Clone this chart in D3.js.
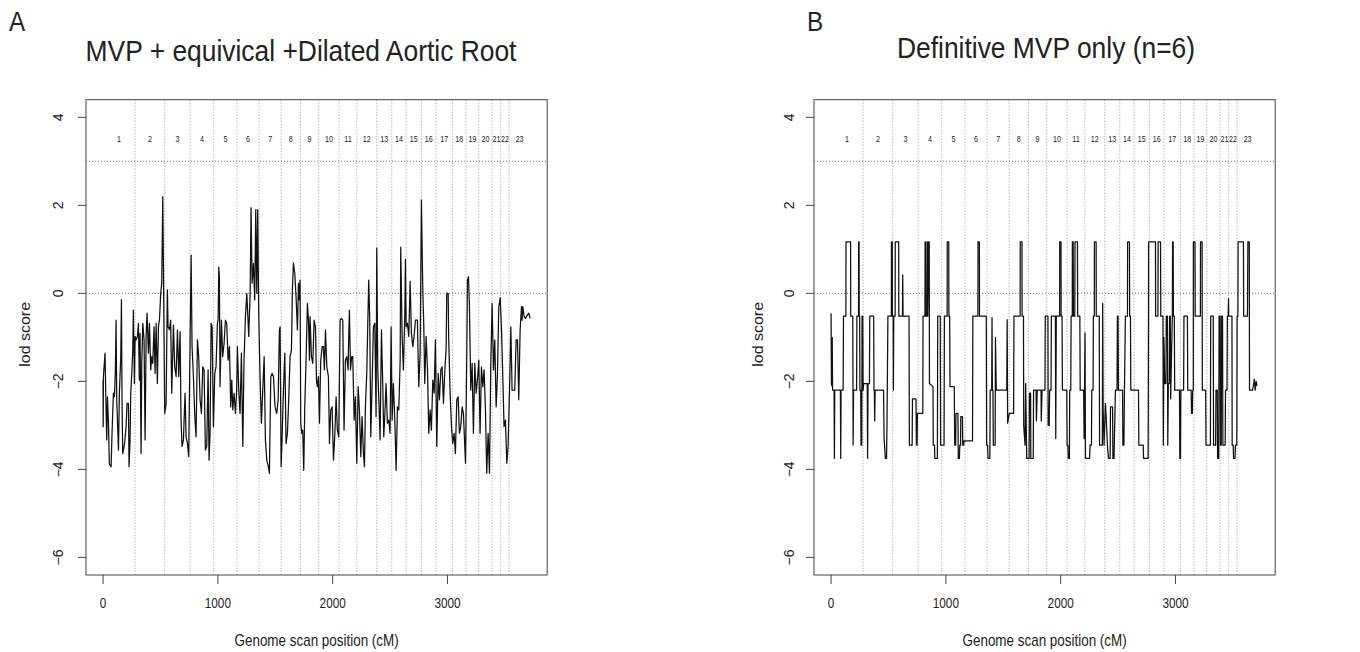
<!DOCTYPE html>
<html>
<head>
<meta charset="utf-8">
<title>Genome scan lod scores</title>
<script src="https://d3js.org/d3.v7.min.js"></script>
<style>
  body { margin: 0; background: #fff; }
  text { font-family: "Liberation Sans", Arial, Helvetica, sans-serif; fill: #222; }
</style>
</head>
<body>
<svg width="1360" height="652"></svg>
<script>
// chromosome names and their edges along the genome scan (cM)
const chromosomes = ["1","2","3","4","5","6","7","8","9","10","11","12","13","14","15","16","17","18","19","20","21","22","23"];
const chromEdges = [0, 279, 537, 758, 964, 1167, 1359, 1551, 1719, 1879, 2056, 2210, 2384, 2515, 2639, 2773, 2901, 3043, 3162, 3273, 3389, 3464, 3537, 3720];

const xTicks = [0, 1000, 2000, 3000];
const yTicks = [-6, -4, -2, 0, 2, 4];
const refLines = [0, 3];

const panelLetters = ["A", "B"];
const panelTitles = ["MVP + equivical +Dilated Aortic Root", "Definitive MVP only (n=6)"];

// panel A: [position cM, lod score]
const lodA = [
[0,-1.97],[1,-3.03],[3,-1.89],[17,-1.36],[26,-2.65],[32,-3.33],[38,-2.35],[46,-2.88],[55,-3.88],[70,-3.94],[78,-3.18],[90,-2.27],[99,-2.35],[107,-1.74],[113,-0.61],[119,-2.42],[134,-3.56],[142,-2.27],[154,-1.44],[160,-0.14],[165,-2.42],[171,-3.64],[183,-3.48],[189,-3.37],[200,-3.03],[209,-2.5],[221,-2.5],[226,-3.94],[235,-3.33],[241,-2.27],[250,-1.82],[258,-1.36],[264,-0.38],[273,-2.05],[279,-0.98],[287,-1.06],[299,-0.98],[308,-0.68],[316,-1.97],[322,-0.91],[331,-3.64],[337,-1.59],[346,-0.68],[357,-1.06],[366,-3.33],[375,-0.98],[383,-0.45],[395,-1.36],[404,-0.68],[415,-1.74],[424,-1.44],[433,-1.59],[444,-0.76],[453,-1.82],[462,-0.68],[473,-2.05],[482,-0.76],[491,-0.61],[502,0],[511,0.23],[520,2.2],[526,0.53],[537,-2.73],[549,-2.5],[560,0.08],[566,-0.76],[578,-0.83],[589,-0.61],[598,-2.27],[613,-0.72],[624,-1.67],[636,-1.89],[648,-0.83],[659,-1.89],[671,-0.87],[679,-2.88],[688,-3.48],[700,-3.33],[714,-2.27],[723,-3.26],[735,-3.41],[746,-3.71],[758,-1.06],[767,0.87],[775,-1.21],[787,-1.89],[799,-2.8],[810,-3.26],[822,-1.06],[833,-1.44],[845,-2.42],[857,-2.73],[868,-1.67],[880,-1.74],[891,-3.56],[903,-3.48],[915,-1.74],[923,-3.79],[932,-3.18],[941,-0.68],[950,-0.76],[961,-3.03],[973,-1.82],[984,-1.67],[996,-0.68],[1002,-0.61],[1008,0.6],[1013,0.38],[1019,-2.12],[1031,-0.61],[1042,-1.44],[1054,-1.14],[1066,-0.61],[1077,-0.68],[1089,-1.52],[1101,-1.21],[1112,-2.58],[1121,-1.97],[1130,-2.65],[1141,-2.27],[1153,-2.73],[1164,-2.2],[1170,-1.21],[1182,-2.2],[1193,-2.73],[1205,-1.36],[1217,-3.48],[1228,-1.52],[1240,-0.53],[1252,0],[1269,-0.98],[1281,0],[1289,1.95],[1298,0.23],[1310,0.68],[1321,-0.15],[1330,1.9],[1339,0],[1347,1.9],[1356,-0.5],[1368,-1.97],[1379,-2.95],[1391,-2.2],[1403,-1.44],[1414,-3.33],[1426,-3.79],[1440,-3.94],[1449,-4.09],[1461,-1.89],[1472,-1.82],[1484,-1.89],[1498,-2.58],[1513,-2.73],[1525,-2.42],[1536,-0.83],[1542,-0.76],[1551,-3.94],[1559,-3.33],[1571,-2.2],[1583,-1.36],[1594,-3.41],[1606,-3.18],[1617,-2.42],[1629,-1.44],[1641,-1.29],[1649,0.08],[1658,0.69],[1670,0.45],[1681,-0.08],[1693,-0.83],[1702,0.23],[1710,-0.15],[1716,0.3],[1722,-2.95],[1731,-3.18],[1739,-3.11],[1748,-4.02],[1757,-2.58],[1768,-1.52],[1780,-0.23],[1789,-0.61],[1798,-1.52],[1803,-0.53],[1815,-1.44],[1827,-1.59],[1838,-0.61],[1850,-0.76],[1859,-1.97],[1867,-2.12],[1876,-1.89],[1885,-2.95],[1896,-1.52],[1908,-1.21],[1919,-1.21],[1928,-1.74],[1937,-0.83],[1949,-1.67],[1963,-1.89],[1972,-3.41],[1983,-2.65],[1995,-2.58],[2007,-3.79],[2018,-3.26],[2030,-2.35],[2041,-3.11],[2053,-3.26],[2065,-0.61],[2076,-0.57],[2088,-0.61],[2099,-3.11],[2111,-1.52],[2123,-1.44],[2134,-1.74],[2140,-0.98],[2146,-0.38],[2155,-1.74],[2166,-1.44],[2175,-1.44],[2187,-2.88],[2198,-2.35],[2210,-3.86],[2222,-2.12],[2233,-2.65],[2245,-3.71],[2256,-2.8],[2268,-3.64],[2277,-3.94],[2285,-2.58],[2297,-1.82],[2309,-0.3],[2314,0.3],[2323,-0.61],[2332,-3.26],[2343,-2.12],[2355,-0.76],[2367,-0.68],[2378,-2.8],[2384,1.03],[2393,-1.74],[2402,-2.42],[2413,-3.33],[2425,-0.83],[2436,-2.05],[2445,-3.26],[2454,-2.8],[2465,-2.05],[2477,-2.95],[2489,-2.88],[2500,-3.18],[2509,-0.76],[2518,-2.88],[2529,-2.05],[2541,-2.88],[2553,-4.02],[2564,-2.58],[2576,-2.65],[2588,-1.52],[2593,1.05],[2605,-0.98],[2616,-1.74],[2628,-0.53],[2634,0.77],[2640,-0.76],[2651,-0.68],[2663,-0.98],[2675,0.27],[2686,-0.91],[2698,-1.21],[2709,-0.98],[2721,-0.61],[2738,-0.61],[2750,-2.12],[2762,-1.36],[2773,2.12],[2785,0.08],[2794,-0.76],[2802,-2.05],[2814,-0.98],[2826,-1.74],[2837,-3.18],[2849,-2.65],[2860,-3.11],[2872,-1.97],[2884,-2.27],[2895,-1.06],[2907,-3.48],[2919,-1.82],[2930,-2.42],[2942,-1.74],[2953,-1.67],[2965,-2.5],[2977,-1.74],[2988,-1.29],[2994,0],[3006,0],[3011,-1.06],[3023,-2.27],[3035,-3.03],[3046,-3.41],[3058,-3.18],[3069,-3.64],[3081,-2.42],[3093,-2.35],[3104,-3.18],[3116,-3.03],[3128,-2.58],[3139,-2.73],[3157,-3.86],[3168,-1.44],[3174,0.3],[3183,0.38],[3191,-0.23],[3203,-2.2],[3215,-1.59],[3226,-3.18],[3238,-1.59],[3250,-2.27],[3261,-1.97],[3273,-1.52],[3284,-3.18],[3296,-1.67],[3308,-2.12],[3319,-1.74],[3331,-2.65],[3342,-4.09],[3354,-3.18],[3366,-4.09],[3377,-1.67],[3389,-0.23],[3401,-1.74],[3412,-1.06],[3424,-2.58],[3435,-1.89],[3447,-0.3],[3459,-0.1],[3470,-0.76],[3482,-1.89],[3493,-3.03],[3505,-2.88],[3517,-3.86],[3528,-3.48],[3540,-2.27],[3552,-0.76],[3563,-2.2],[3575,-2.2],[3586,-2.2],[3598,-1.06],[3610,-1.06],[3621,-2.42],[3633,-0.83],[3645,-0.3],[3650,-0.61],[3656,-0.3],[3668,-0.53],[3679,-0.57],[3697,-0.49],[3708,-0.45],[3720,-0.57]
];

// panel B: [position cM, lod score]
const lodB = [
[0,-0.45],[3,-2.05],[7,-2.1],[10,-1.0],[13,-2.2],[26,-2.2],[29,-3.75],[32,-2.2],[81,-2.2],[84,-3.75],[87,-2.2],[105,-2.2],[108,-0.52],[129,-0.52],[130,1.17],[170,1.17],[171,-0.52],[189,-0.52],[192,-3.45],[196,-2.2],[222,-2.2],[225,-0.52],[239,-0.52],[240,1.17],[244,1.17],[245,-0.52],[249,-0.52],[251,-2.2],[258,-2.2],[261,-3.45],[267,-3.45],[270,-0.52],[276,-0.52],[279,-2.2],[284,-2.05],[315,-2.05],[318,-3.75],[322,-2.05],[334,-2.05],[337,-0.52],[371,-0.52],[374,-2.2],[377,-2.2],[380,-2.9],[384,-2.2],[457,-2.2],[462,-3.3],[473,-3.75],[483,-3.75],[487,-3.0],[495,-0.52],[525,-0.52],[526,1.17],[533,1.17],[534,-0.52],[541,-0.52],[543,-2.2],[546,-0.52],[558,-0.52],[559,1.17],[589,1.17],[590,-0.52],[622,-0.52],[624,0.42],[627,-0.52],[679,-0.52],[682,-3.45],[706,-3.45],[709,-2.4],[740,-2.4],[743,-3.45],[749,-3.45],[752,-2.73],[799,-2.73],[801,-0.52],[818,-0.52],[819,1.17],[823,1.17],[825,-0.52],[836,-0.52],[837,1.17],[840,1.17],[842,-0.52],[851,1.17],[855,1.17],[857,-2.05],[888,-2.12],[890,-3.45],[901,-3.45],[904,-3.75],[926,-3.75],[929,-0.52],[951,-0.52],[954,-3.45],[984,-3.45],[987,-0.52],[1011,-0.52],[1012,1.17],[1025,1.17],[1026,-0.52],[1033,-0.52],[1036,-2.12],[1073,-2.12],[1077,-3.45],[1085,-3.45],[1088,-2.73],[1105,-2.73],[1108,-3.75],[1118,-3.75],[1121,-3.45],[1128,-3.45],[1130,-2.8],[1144,-2.8],[1147,-3.45],[1155,-3.45],[1158,-3.35],[1232,-3.35],[1235,-0.52],[1279,-0.52],[1280,1.17],[1292,1.17],[1293,-0.52],[1352,-0.52],[1355,-3.45],[1364,-3.45],[1367,-3.75],[1383,-3.75],[1386,-2.2],[1399,-2.2],[1402,-0.55],[1405,-2.2],[1410,-2.2],[1413,-3.45],[1429,-3.45],[1432,-1.0],[1439,-2.2],[1530,-2.2],[1534,-0.6],[1538,-2.95],[1552,-2.73],[1590,-2.73],[1593,-0.52],[1647,-0.52],[1648,1.17],[1663,1.17],[1664,-0.52],[1676,-0.52],[1678,-3.0],[1689,-3.45],[1695,-2.05],[1704,-3.75],[1725,-3.75],[1728,-2.27],[1738,-2.27],[1740,-3.75],[1761,-3.75],[1764,-2.2],[1786,-2.2],[1789,-2.9],[1796,-2.2],[1829,-2.2],[1831,-2.9],[1838,-2.2],[1863,-2.2],[1866,-0.52],[1889,-0.52],[1891,-3.0],[1900,-3.0],[1904,-2.2],[1916,-2.2],[1919,-0.52],[1954,-0.52],[1957,-3.3],[1962,-0.52],[1991,-0.52],[1992,1.17],[2003,1.17],[2004,-0.52],[2012,-0.52],[2015,-2.2],[2053,-2.2],[2056,-3.45],[2063,-3.45],[2066,-3.75],[2076,-3.75],[2079,-2.2],[2088,-2.2],[2091,-0.52],[2101,-0.52],[2102,1.17],[2109,1.17],[2111,-0.52],[2123,-0.52],[2125,1.17],[2146,1.17],[2148,-0.52],[2167,-0.52],[2170,-2.2],[2200,-2.2],[2204,-3.3],[2212,-0.9],[2216,-3.75],[2252,-3.75],[2256,-3.45],[2268,-3.45],[2271,-2.2],[2282,-2.2],[2285,-0.52],[2293,-0.52],[2294,1.17],[2309,1.17],[2310,-0.52],[2336,-0.52],[2339,-3.45],[2363,-3.45],[2366,-0.23],[2370,-2.65],[2378,-3.45],[2390,-2.5],[2398,-2.9],[2407,-3.45],[2417,-3.75],[2431,-3.75],[2434,-2.58],[2452,-2.58],[2455,-3.75],[2465,-3.75],[2468,-3.3],[2477,-2.2],[2491,-2.2],[2494,-0.52],[2500,-0.52],[2503,-2.2],[2539,-2.2],[2542,-3.45],[2551,-3.45],[2555,-2.3],[2564,-0.52],[2582,-0.52],[2583,1.17],[2599,1.17],[2601,-0.52],[2608,-0.52],[2611,-2.2],[2678,-2.2],[2681,-3.45],[2719,-3.45],[2722,-3.75],[2762,-3.75],[2765,-0.52],[2766,1.17],[2826,1.17],[2827,-0.52],[2847,-0.52],[2849,1.17],[2870,1.17],[2872,-0.52],[2891,-0.52],[2894,-3.45],[2899,-1.0],[2907,-2.05],[2917,-2.05],[2920,-0.52],[2930,-0.52],[2933,-3.45],[2938,-2.05],[2946,-2.05],[2949,-0.52],[2955,-0.52],[2958,-2.4],[2967,-1.2],[2973,-0.52],[2975,1.17],[2980,1.17],[2982,-0.52],[2990,-0.52],[2993,-2.2],[3035,-2.2],[3038,-3.75],[3044,-3.75],[3047,-2.2],[3071,-2.2],[3074,-0.52],[3104,-0.52],[3107,-2.2],[3137,-2.2],[3140,-2.73],[3147,-2.73],[3150,-2.2],[3155,-2.2],[3156,1.17],[3170,1.17],[3172,-0.52],[3217,-0.52],[3218,1.17],[3232,1.17],[3234,-2.2],[3263,-2.2],[3266,-3.45],[3304,-3.45],[3307,-0.52],[3329,-0.52],[3332,-3.45],[3350,-3.45],[3353,-2.2],[3364,-2.2],[3367,-3.75],[3377,-3.75],[3380,-0.52],[3389,-0.52],[3392,-3.45],[3399,-3.45],[3402,-0.52],[3410,-0.52],[3413,-3.45],[3433,-3.45],[3436,-2.2],[3449,-2.2],[3452,-0.52],[3459,-0.52],[3462,-0.12],[3464,-0.52],[3492,-0.52],[3494,-3.45],[3503,-3.45],[3506,-3.75],[3519,-3.75],[3522,-3.45],[3534,-3.45],[3537,-0.52],[3544,-0.52],[3546,1.17],[3592,1.17],[3594,-0.52],[3627,-0.52],[3631,1.17],[3643,1.17],[3645,-2.2],[3672,-2.2],[3679,-2.1],[3687,-1.95],[3695,-2.2],[3703,-2.0],[3710,-2.1]
];

const series = [lodA, lodB];

// layout
const panelLeft = [86, 814];
const plotW = 461.2, plotTop = 99.7, plotH = 475.3;
const squash = 0.84;   // the figure was squeezed horizontally

const svg = d3.select("svg");
svg.append("rect").attr("width", 1360).attr("height", 652).attr("fill", "#fff");

function label(g, x, y, txt, size, opts) {
    opts = opts || {};
    let tr = "translate(" + x + "," + y + ") scale(" + (opts.squash || squash) + ",1)";
    if (opts.rotate) tr += " rotate(" + opts.rotate + ")";
    return g.append("text")
        .attr("transform", tr)
        .attr("text-anchor", opts.anchor || "middle")
        .attr("dy", opts.dy || 0)
        .style("font-size", size + "px")
        .text(txt);
}

const titleX = [301, 1046];
const titleY = [61, 58];
const letterX = [9, 807];
const tickLabelOff = [-28, -25];
const ylabOff = [-61, -56];

function drawPanel(p) {
    const g = svg.append("g").attr("transform", "translate(" + panelLeft[p] + "," + plotTop + ")");
    const x = d3.scaleLinear().domain([-148.8, 3868.8]).range([0, plotW]);
    const y = d3.scaleLinear().domain([-6.4, 4.4]).range([plotH, 0]);

    // chromosome separators
    g.selectAll(".sep")
        .data(chromEdges.slice(1, -1))
        .enter().append("line")
        .attr("x1", d => x(d)).attr("x2", d => x(d))
        .attr("y1", 0).attr("y2", plotH)
        .attr("stroke", "#8a8a8a").attr("stroke-width", 0.9)
        .attr("stroke-dasharray", "1,2");

    // horizontal reference lines
    g.selectAll(".ref")
        .data(refLines)
        .enter().append("line")
        .attr("x1", 0).attr("x2", plotW)
        .attr("y1", d => y(d)).attr("y2", d => y(d))
        .attr("stroke", "#666").attr("stroke-width", 0.9)
        .attr("stroke-dasharray", "1,2");

    // chromosome labels at each chromosome's centre
    chromosomes.forEach((c, i) => {
        label(g, x((chromEdges[i] + chromEdges[i + 1]) / 2), y(3.5), c, 8.5, {dy: "0.35em"});
    });

    // lod curve
    const line = d3.line().x(d => x(d[0])).y(d => y(d[1]));
    g.append("path")
        .datum(series[p])
        .attr("d", line)
        .attr("fill", "none")
        .attr("stroke", "#111")
        .attr("stroke-width", 1.25)
        .attr("stroke-linejoin", "round");

    // box
    g.append("rect").attr("width", plotW).attr("height", plotH)
        .attr("fill", "none").attr("stroke", "#444").attr("stroke-width", 1);

    // x axis
    const xa = g.append("g").attr("transform", "translate(0," + plotH + ")");
    xa.selectAll("line").data(xTicks).enter().append("line")
        .attr("x1", d => x(d)).attr("x2", d => x(d))
        .attr("y1", 0).attr("y2", 9)
        .attr("stroke", "#444");
    xTicks.forEach(t => label(xa, x(t), 28.5, String(t), 14, {dy: "0.35em"}));

    // y axis
    const ya = g.append("g");
    ya.selectAll("line").data(yTicks).enter().append("line")
        .attr("x1", -8).attr("x2", 0)
        .attr("y1", d => y(d)).attr("y2", d => y(d))
        .attr("stroke", "#444");
    yTicks.forEach(t => label(ya, tickLabelOff[p], y(t), t < 0 ? "\u2212" + Math.abs(t) : String(t), 14,
        {rotate: -90, dy: "0.35em", squash: 1}));

    // axis titles
    label(g, plotW / 2, plotH + 65, "Genome scan position (cM)", 16, {dy: "0.35em"});
    label(g, ylabOff[p], plotH / 2 - 3, "lod score", 16, {rotate: -90, dy: "0.35em", squash: 0.95});

    // panel letter and title
    label(svg, letterX[p], 31, panelLetters[p], 27, {anchor: "start", squash: 0.9});
    label(svg, titleX[p], titleY[p], panelTitles[p], 30, {squash: 0.88});
}

drawPanel(0);
drawPanel(1);
</script>
</body>
</html>
